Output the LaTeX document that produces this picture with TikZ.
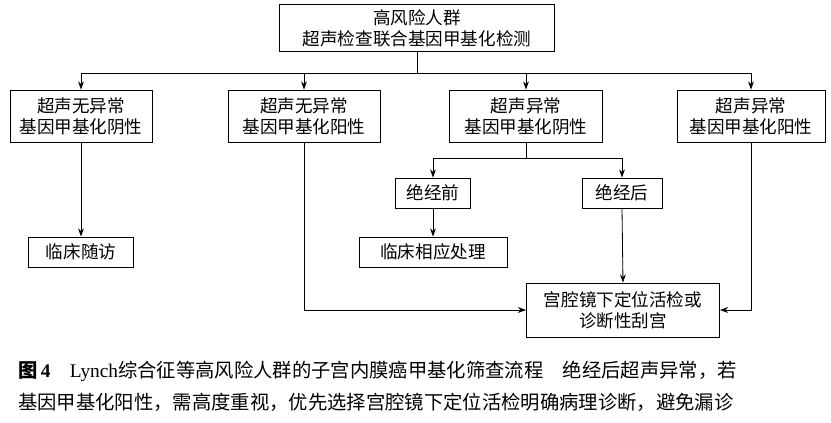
\documentclass[tikz,border=0pt]{standalone}
\usepackage{fontspec}
\setmainfont{Liberation Serif}
\newfontfamily\cjk{Noto Sans CJK SC}
\usetikzlibrary{arrows.meta}
\begin{document}
\begin{tikzpicture}[x=0.03cm,y=-0.03cm,
 bx/.style={draw,line width=0.7pt,inner sep=0pt,align=center,font=\cjk\fontsize{15}{18}\selectfont},
 ar/.style={-{Stealth[length=7pt,width=5pt]},line width=0.7pt},
 ln/.style={line width=0.7pt}]
\useasboundingbox (0,0) rectangle (831,423);
\node[bx,minimum width=275*0.03cm,minimum height=47*0.03cm] (top) at (417,28) {高风险人群\\超声检查联合基因甲基化检测};
\node[bx,minimum width=142*0.03cm,minimum height=52*0.03cm] (b1) at (81,116) {超声无异常\\基因甲基化阴性};
\node[bx,minimum width=152*0.03cm,minimum height=52*0.03cm] (b2) at (304,116) {超声无异常\\基因甲基化阳性};
\node[bx,minimum width=153*0.03cm,minimum height=52*0.03cm] (b3) at (526,116) {超声异常\\基因甲基化阴性};
\node[bx,minimum width=148*0.03cm,minimum height=52*0.03cm] (b4) at (751,116) {超声异常\\基因甲基化阳性};
\node[bx,minimum width=75*0.03cm,minimum height=30*0.03cm] (pre) at (433,193) {绝经前};
\node[bx,minimum width=80*0.03cm,minimum height=30*0.03cm] (post) at (622,193) {绝经后};
\node[bx,minimum width=105*0.03cm,minimum height=30*0.03cm] (fu) at (81,252) {临床随访};
\node[bx,minimum width=148*0.03cm,minimum height=30*0.03cm] (tr) at (433,252) {临床相应处理};
\node[bx,minimum width=193*0.03cm,minimum height=54*0.03cm] (fin) at (623,310) {宫腔镜下定位活检或\\诊断性刮宫};
\coordinate (h) at (417,73);
\draw[ln] (top.south) -- (h);
\draw[ln] (81,73) -- (751,73);
\draw[ar] (81,73) -- (b1.north);
\draw[ar] (304,73) -- (b2.north);
\draw[ar] (526,73) -- (b3.north);
\draw[ar] (751,73) -- (b4.north);
\draw[ln] (b3.south) -- (526,158);
\draw[ln] (433,158) -- (622,158);
\draw[ar] (433,158) -- (pre.north);
\draw[ar] (622,158) -- (post.north);
\draw[ar] (b1.south) -- (fu.north);
\draw[ar] (pre.south) -- (tr.north);
\draw[ar] (post.south) -- (fin.north);
\draw[ar] (b2.south) |- (fin.west);
\draw[ar] (b4.south) |- (fin.east);
\node[anchor=west,inner sep=0pt,font=\fontsize{16.5}{19}\selectfont] (c1) at (18,371) {{\cjk\bfseries 图}\,\textbf{4}\quad Lynch{\cjk 综合征等高风险人群的子宫内膜癌甲基化筛查流程\quad 绝经后超声异常，若}};
\node[anchor=west,inner sep=0pt,font=\cjk\fontsize{16.5}{19}\selectfont] (c2) at (18,402) {基因甲基化阳性，需高度重视，优先选择宫腔镜下定位活检明确病理诊断，避免漏诊};
\end{tikzpicture}
\end{document}
